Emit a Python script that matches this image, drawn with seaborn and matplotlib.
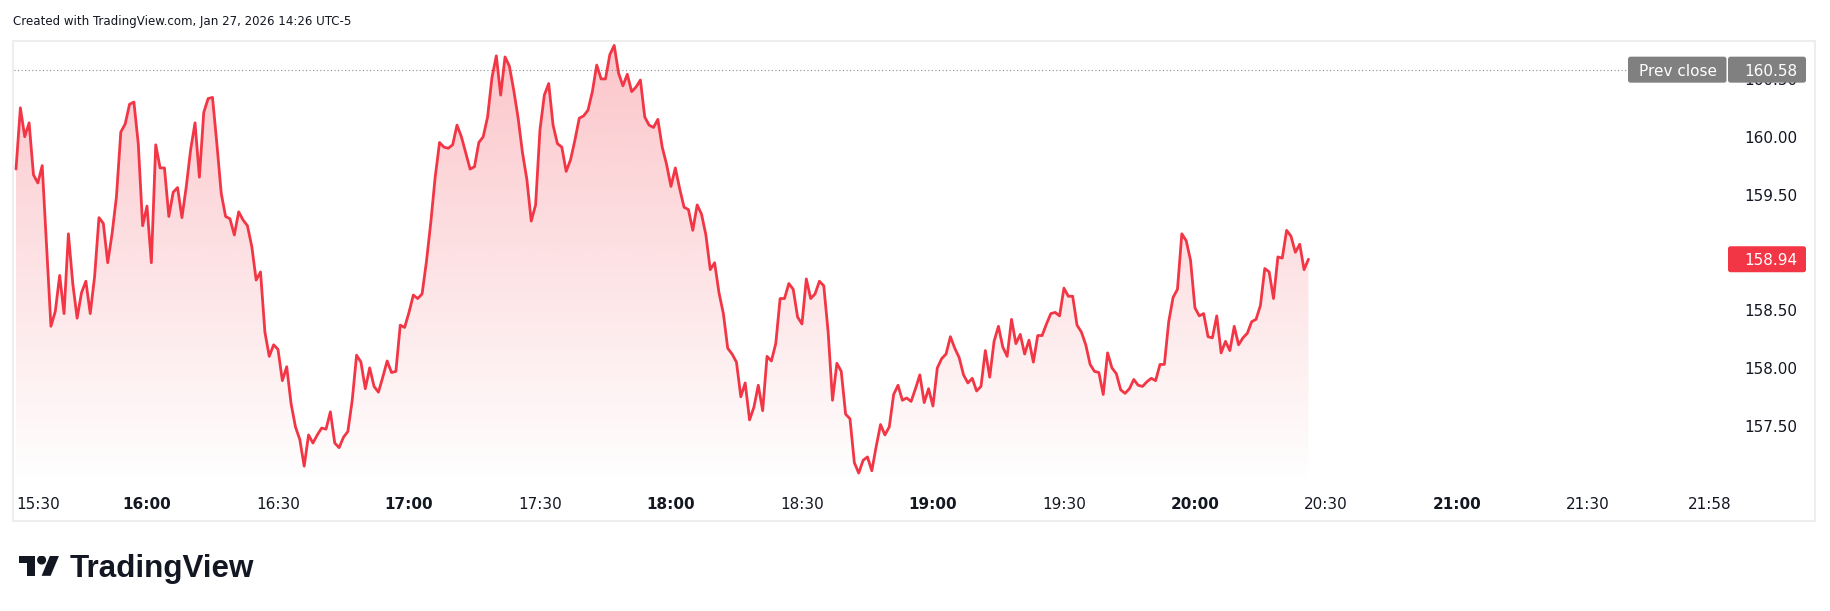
import numpy as np
import pandas as pd
import matplotlib
matplotlib.use("Agg")
import matplotlib.pyplot as plt
import matplotlib.dates as mdates
from matplotlib.patches import Polygon, Circle, FancyBboxPatch, Rectangle
from matplotlib.transforms import IdentityTransform
from matplotlib.colors import to_rgb
from matplotlib import font_manager as fm
import seaborn as sns

# ---------------- data (1-minute closes) ----------------
p_1530 = [159.72, 160.25, 160.00, 160.12, 159.67, 159.60, 159.75, 159.05, 158.36, 158.49,
          158.80, 158.47, 159.16, 158.73, 158.43, 158.65, 158.75, 158.47, 158.79, 159.30,
          159.25, 158.91, 159.16, 159.48, 160.04, 160.11, 160.28, 160.30, 159.94, 159.23,
          159.40, 158.91, 159.93, 159.73, 159.73, 159.31, 159.52, 159.56, 159.30, 159.57,
          159.89, 160.12, 159.65, 160.21, 160.33, 160.34, 159.94, 159.51, 159.31, 159.29,
          159.15, 159.35, 159.28, 159.23, 159.05, 158.76, 158.83, 158.31]
p_1628 = [158.10, 158.20, 158.16, 157.89, 158.01, 157.69, 157.49, 157.38, 157.15, 157.42,
          157.35, 157.42, 157.48, 157.47, 157.62, 157.35, 157.31, 157.40, 157.45, 157.72,
          158.11, 158.05, 157.82, 158.00, 157.84, 157.79, 157.92, 158.06, 157.96, 157.97,
          158.37, 158.35, 158.48, 158.63, 158.60, 158.64, 158.92, 159.26, 159.65, 159.95,
          159.91, 159.90, 159.93, 160.10, 160.00, 159.86, 159.72, 159.74, 159.95, 160.00,
          160.17, 160.51, 160.70, 160.36, 160.69, 160.61, 160.40, 160.16]
p_1726 = [159.86, 159.63, 159.27, 159.41, 160.06, 160.36, 160.46, 160.10, 159.94, 159.91,
          159.70, 159.80, 159.97, 160.16, 160.18, 160.23, 160.39, 160.62, 160.50, 160.50,
          160.71, 160.79, 160.55, 160.44, 160.54, 160.39, 160.43, 160.49, 160.17, 160.10,
          160.08, 160.15, 159.91, 159.76, 159.57, 159.73, 159.55, 159.39, 159.37, 159.19,
          159.41, 159.33, 159.15, 158.85, 158.91, 158.65, 158.47, 158.17, 158.12, 158.05,
          157.75, 157.87, 157.55, 157.66, 157.85, 157.63, 158.10, 158.06, 158.21]
p_1825 = [158.60, 158.60, 158.73, 158.68, 158.44, 158.38, 158.77, 158.60, 158.64, 158.75,
          158.71, 158.31, 157.72, 158.04, 157.97, 157.60, 157.56, 157.18, 157.09, 157.20,
          157.23, 157.11, 157.32, 157.51, 157.42, 157.49, 157.77, 157.85, 157.72, 157.74,
          157.71, 157.82, 157.94, 157.70, 157.82, 157.67, 158.00, 158.08, 158.12, 158.27,
          158.17, 158.09, 157.94, 157.87, 157.91, 157.80, 157.84, 158.15, 157.92, 158.23,
          158.36, 158.18, 158.10, 158.42, 158.21, 158.29, 158.12, 158.24, 158.05]
p_1924 = [158.28, 158.28, 158.38, 158.47, 158.48, 158.45, 158.69, 158.62, 158.62, 158.37,
          158.31, 158.20, 158.03, 157.97, 157.96, 157.77, 158.13, 158.00, 157.95, 157.81,
          157.78, 157.82, 157.90, 157.85, 157.84, 157.88, 157.91, 157.89, 158.03, 158.03,
          158.40, 158.61, 158.68, 159.16, 159.10, 158.93, 158.52, 158.45, 158.47, 158.27,
          158.26, 158.45, 158.13, 158.23, 158.15, 158.36, 158.20, 158.26, 158.30, 158.40,
          158.42, 158.54, 158.86, 158.83, 158.60, 158.96, 158.95, 159.19, 159.14, 159.00,
          159.07, 158.85, 158.94]

session_day = "2026-01-27"
start_time = "15:30"
prev_close = 160.58
# 159.00 is hidden behind the last-price tag in the reference
y_ticks = [157.50, 158.00, 158.50, 159.50, 160.00, 160.50]
x_tick_labels = ["15:30", "16:00", "16:30", "17:00", "17:30", "18:00", "18:30",
                 "19:00", "19:30", "20:00", "20:30", "21:00", "21:30", "21:58"]
title_text = "Created with TradingView.com, Jan 27, 2026 14:26 UTC-5"
logo_text = "TradingView"
prev_label = "Prev close"

prices = p_1530 + p_1628 + p_1726 + p_1825 + p_1924
last_price = prices[-1]

# ---------------- style ----------------
RED = "#F23645"
TXT = "#131722"
TAG_GRAY = "#808080"
FRAME = "#eeeeee"

sns.set_theme(style="white")
plt.rcParams["font.family"] = ["DejaVu Sans"]

# look for a condensed face for the header line
title_fp = None
for f in fm.fontManager.ttflist:
    if f.name == "Liberation Sans Narrow" and f.weight in (400, "normal", "regular") and f.style == "normal":
        title_fp = fm.FontProperties(fname=f.fname)
        break
if title_fp is None:
    for f in fm.fontManager.ttflist:
        if f.name == "DejaVu Sans" and f.stretch == "condensed" and f.weight in (400, "normal") \
                and f.style == "normal":
            title_fp = fm.FontProperties(fname=f.fname)
            break
if title_fp is None:
    title_fp = fm.FontProperties(family="Liberation Sans")

names = {f.name for f in fm.fontManager.ttflist}
logo_font = "Liberation Sans" if "Liberation Sans" in names else "DejaVu Sans"

W, H = 1830, 611
fig = plt.figure(figsize=(W / 100, H / 100), dpi=100)
fig.patch.set_facecolor("white")


def fx(px):
    return px / W


def fy(py):
    return 1 - py / H


# pane (plot area) in pixel coordinates of the reference
PL, PR, PT, PB = 14, 1725, 41, 485
ax = fig.add_axes([fx(PL), fy(PB), fx(PR) - fx(PL), fy(PT) - fy(PB)])
ax.set_facecolor("none")

t0 = pd.Timestamp(f"{session_day} {start_time}")
df = pd.DataFrame({"time": pd.date_range(t0, periods=len(prices), freq="min"),
                   "price": prices})

y_lo, y_hi = 156.987, 160.828
x_lo = t0 - pd.Timedelta(minutes=0.46)
x_hi = t0 + pd.Timedelta(minutes=391.4)

sns.lineplot(data=df, x="time", y="price", color=RED, linewidth=2.0, ax=ax, zorder=4)

# gradient area under the line
poly = ax.fill_between(df["time"], df["price"], y_lo, facecolor="none", edgecolor="none")
n = 300
grad = np.zeros((n, 1, 4))
grad[..., :3] = to_rgb(RED)
grad[:, 0, 3] = np.linspace(0.29, 0.0, n)
xnum = mdates.date2num(df["time"])
im = ax.imshow(grad, extent=[xnum[0], xnum[-1], y_lo, y_hi], aspect="auto",
               origin="upper", interpolation="bilinear", zorder=2)
im.set_clip_path(poly.get_paths()[0], ax.transData)

ax.set_xlim(x_lo, x_hi)
ax.set_ylim(y_lo, y_hi)
ax.set_xlabel("")
ax.set_ylabel("")
for s in ax.spines.values():
    s.set_visible(False)
ax.grid(False)

# y ticks on the right (price scale)
ax.yaxis.tick_right()
ax.set_yticks(y_ticks)
ax.set_yticklabels([f"{v:.2f}" for v in y_ticks])
ax.tick_params(axis="y", length=0, pad=(1797 - PR) * 0.72, labelsize=11, labelcolor=TXT)
for lbl in ax.get_yticklabels():
    lbl.set_ha("right")

# x ticks (time scale)
tick_pos = [pd.Timestamp(f"{session_day} {lbl}") for lbl in x_tick_labels]
ax.set_xticks(mdates.date2num(tick_pos))
ax.set_xticklabels(x_tick_labels)
ax.tick_params(axis="x", length=0, pad=8.5, labelsize=11, labelcolor=TXT)
for i, lbl in enumerate(ax.get_xticklabels()):
    if lbl.get_text().endswith(":00"):
        lbl.set_fontweight("bold")
    if i == 0:
        lbl.set_ha("left")

# frame around chart
fig.add_artist(Rectangle((fx(13), fy(521)), fx(1815) - fx(13), fy(41) - fy(521),
                         transform=fig.transFigure, fill=False,
                         edgecolor=FRAME, linewidth=1.5, zorder=0))

# price tags
TAG_L, TAG_R, TAG_H = 1728, 1806, 26
PREV_L = 1628
yc_prev = ax.transData.transform((xnum[0], prev_close))[1]
yc_last = ax.transData.transform((xnum[0], last_price))[1]

# dotted previous close line up to the tag
ax.axhline(prev_close, xmin=0, xmax=(PREV_L - PL) / (PR - PL), color="#8c8c8c",
           linewidth=0.8, linestyle=(0, (1, 2.2)), zorder=3)


def tag(x0, x1, yc, color, text, ha="right", tx=None):
    p = FancyBboxPatch((x0, yc - TAG_H / 2), x1 - x0, TAG_H,
                       boxstyle="round,pad=0,rounding_size=2.5",
                       transform=IdentityTransform(), facecolor=color, edgecolor="none", zorder=10)
    fig.add_artist(p)
    fig.text(tx, yc, text, transform=IdentityTransform(), ha=ha, va="center_baseline",
             color="white", fontsize=11, zorder=11)


tag(TAG_L, TAG_R, yc_prev, TAG_GRAY, f"{prev_close:.2f}", tx=1797)
tag(PREV_L, TAG_L - 1.5, yc_prev, TAG_GRAY, prev_label, ha="center", tx=(PREV_L + TAG_L) / 2)
tag(TAG_L, TAG_R, yc_last, RED, f"{last_price:.2f}", tx=1797)

# header text
t_title = fig.text(fx(13), fy(21), title_text, ha="left", va="center",
                   color=TXT, fontproperties=title_fp)
t_title.set_fontsize(10)

# logo
LX, LY, LS = 19, 555.5, 1.13
ax_logo = fig.add_axes([fx(LX), fy(LY + 18 * LS), fx(LX + 36 * LS) - fx(LX), fy(LY) - fy(LY + 18 * LS)])
ax_logo.set_xlim(0, 36)
ax_logo.set_ylim(22, 4)
ax_logo.axis("off")
ax_logo.add_patch(Polygon([(14, 22), (7, 22), (7, 11), (0, 11), (0, 4), (14, 4)], closed=True,
                          facecolor=TXT, edgecolor="none"))
ax_logo.add_patch(Polygon([(28, 22), (20, 22), (27.5, 4), (35.5, 4)], closed=True,
                          facecolor=TXT, edgecolor="none"))
ax_logo.add_patch(Circle((20, 8), 4, facecolor=TXT, edgecolor="none"))

t_logo = fig.text(fx(70), fy(576.5), logo_text, ha="left", va="baseline", color=TXT,
                  fontsize=22, fontweight="bold", family=logo_font)

# fit text widths to the reference
fig.canvas.draw()
r = fig.canvas.get_renderer()
for t, target in [(t_title, 337), (t_logo, 184)]:
    w = t.get_window_extent(r).width
    t.set_fontsize(t.get_fontsize() * target / w)

fig.savefig("out.png", dpi=100, facecolor="white")
